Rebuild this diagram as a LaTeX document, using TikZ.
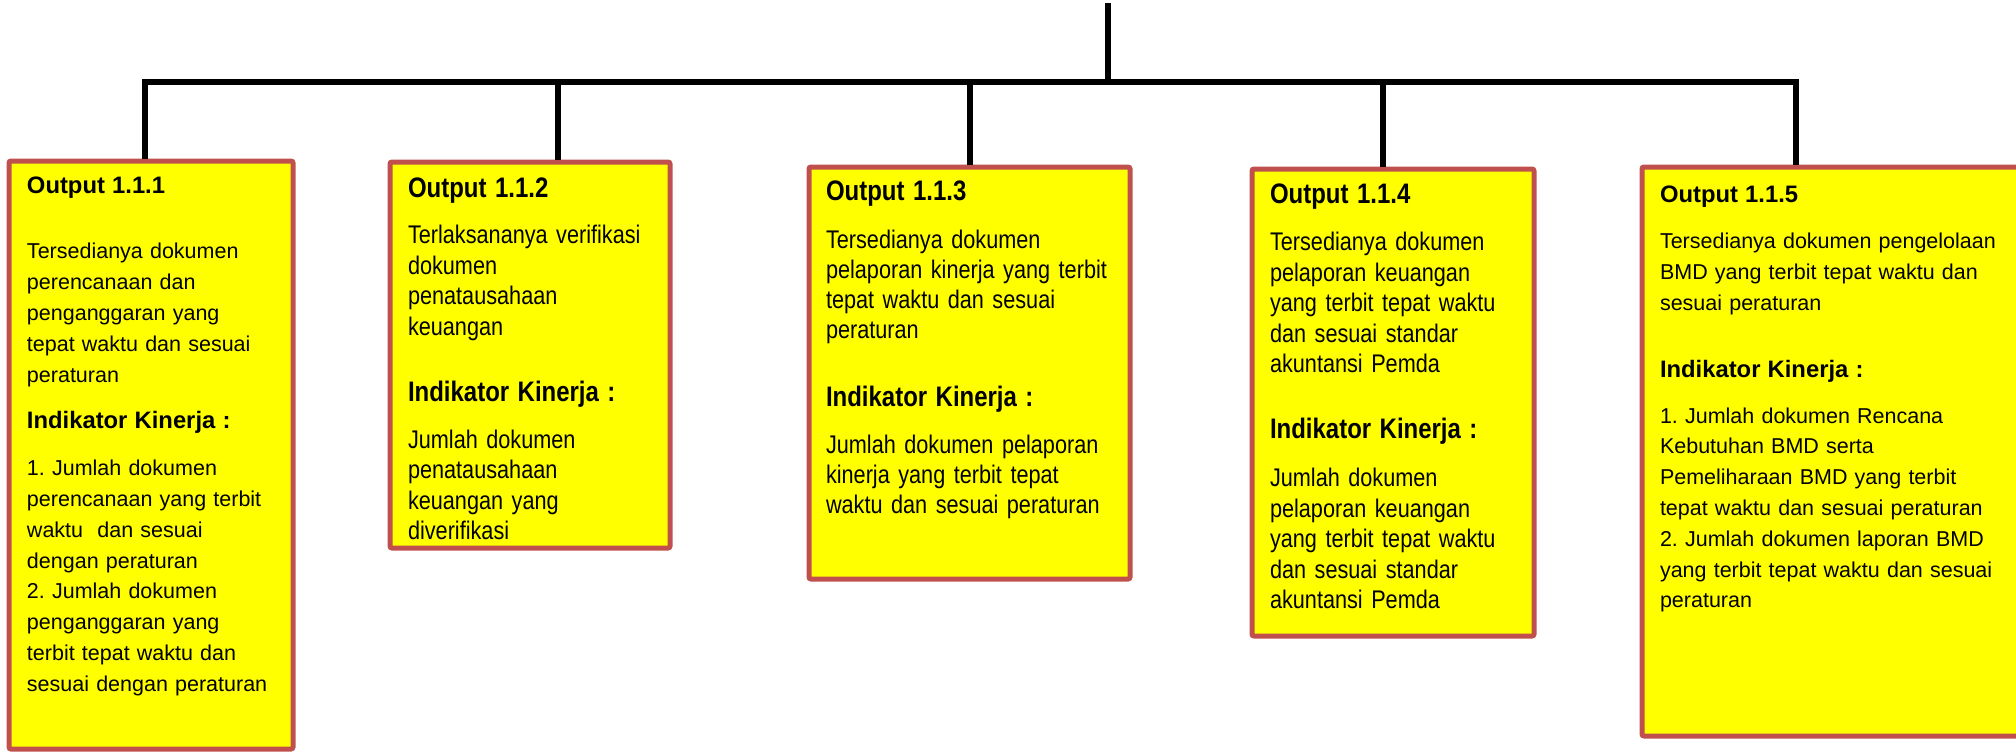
\documentclass[tikz,border=0pt]{standalone}
\usepackage{fontspec}
\setmainfont{Liberation Sans}
\newfontfamily\narrowfont[FakeStretch=0.85]{Liberation Sans}
\usetikzlibrary{positioning}

\definecolor{boxyellow}{HTML}{FFFF00}
\definecolor{boxred}{HTML}{C0504D}

\newcommand{\regbody}{\frenchspacing\fontsize{21.5}{30.8}\selectfont}
\newcommand{\regkpi}{\fontsize{23.8}{30.8}\selectfont\bfseries}
\newcommand{\narbody}{\frenchspacing\narrowfont\fontsize{25.5}{30.5}\selectfont}
\newcommand{\narkpi}{\fontsize{28.2}{30.5}\selectfont\bfseries}

\begin{document}
\begin{tikzpicture}[x=1pt, y=-1pt, line width=6pt]
    % Styles
    \tikzstyle{outbox}=[rectangle, draw=boxred, fill=boxyellow, line width=5pt, rounded corners=2pt, inner sep=0pt, anchor=north west]
    \tikzstyle{regtext}=[inner sep=0pt, align=left, text width=380pt, font=\regbody]
    \tikzstyle{nartext}=[inner sep=0pt, align=left, text width=330pt, font=\narbody]

    \useasboundingbox (0,0) rectangle (2016,752);

    % Tree lines
    \coordinate (top) at (1108,3);
    \coordinate (hub) at (1108,82);
    \coordinate (j1) at (145,82);
    \coordinate (j2) at (558,82);
    \coordinate (j3) at (970,82);
    \coordinate (j4) at (1383,82);
    \coordinate (j5) at (1796,82);

    % Output boxes
    \node (out1) [outbox, minimum width=284, minimum height=588] at (6.5,158.5) {};
    \node (out2) [outbox, minimum width=280, minimum height=386] at (387.5,159.5) {};
    \node (out3) [outbox, minimum width=321, minimum height=412] at (806.5,164.5) {};
    \node (out4) [outbox, minimum width=282, minimum height=467] at (1249.5,166.5) {};
    \node (out5) [outbox, minimum width=400, minimum height=569] at (1639.5,164.5) {};

    \draw (top) -- (hub);
    \draw[line cap=rect] (j1) -- (j5);
    \draw (j1) -- (j1 |- out1.north);
    \draw (j2) -- (j2 |- out2.north);
    \draw (j3) -- (j3 |- out3.north);
    \draw (j4) -- (j4 |- out4.north);
    \draw (j5) -- (j5 |- out5.north);

    % Box texts
    \node (txt1) [regtext, below right=15pt and 17.5pt of out1.north west] {{\regkpi Output 1.1.1}\\[35pt]
        Tersedianya dokumen\\ perencanaan dan\\ penganggaran yang\\ tepat waktu dan sesuai\\ peraturan\\[16pt]
        {\regkpi Indikator Kinerja :}\\[16pt]
        1. Jumlah dokumen\\ perencanaan yang terbit\\ waktu\ \ dan sesuai\\ dengan peraturan\\
        2. Jumlah dokumen\\ penganggaran yang\\ terbit tepat waktu dan\\ sesuai dengan peraturan};
    \node (txt2) [nartext, below right=15.5pt and 17.5pt of out2.north west] {{\narkpi Output 1.1.2}\\[15.5pt]
        Terlaksananya verifikasi\\ dokumen\\ penatausahaan\\ keuangan\\[35.5pt]
        {\narkpi Indikator Kinerja :}\\[16.5pt]
        Jumlah dokumen\\ penatausahaan\\ keuangan yang\\ diverifikasi};
    \node (txt3) [nartext, below right=13.5pt and 16.5pt of out3.north west, font=\narrowfont\fontsize{25.5}{30}\selectfont] {{\narkpi Output 1.1.3}\\[18pt]
        Tersedianya dokumen\\ pelaporan kinerja yang terbit\\ tepat waktu dan sesuai\\ peraturan\\[38pt]
        {\narkpi Indikator Kinerja :}\\[17pt]
        Jumlah dokumen pelaporan\\ kinerja yang terbit tepat\\ waktu dan sesuai peraturan};
    \node (txt4) [nartext, below right=14.5pt and 17.5pt of out4.north west] {{\narkpi Output 1.1.4}\\[16.5pt]
        Tersedianya dokumen\\ pelaporan keuangan\\ yang terbit tepat waktu\\ dan sesuai standar\\ akuntansi Pemda\\[35.5pt]
        {\narkpi Indikator Kinerja :}\\[17.5pt]
        Jumlah dokumen\\ pelaporan keuangan\\ yang terbit tepat waktu\\ dan sesuai standar\\ akuntansi Pemda};
    \node (txt5) [regtext, below right=18pt and 17.5pt of out5.north west] {{\regkpi Output 1.1.5}\\[16pt]
        Tersedianya dokumen pengelolaan\\ BMD yang terbit tepat waktu dan\\ sesuai peraturan\\[36pt]
        {\regkpi Indikator Kinerja :}\\[15pt]
        1. Jumlah dokumen Rencana\\ Kebutuhan BMD serta\\ Pemeliharaan BMD yang terbit\\ tepat waktu dan sesuai peraturan\\
        2. Jumlah dokumen laporan BMD\\ yang terbit tepat waktu dan sesuai\\ peraturan};
\end{tikzpicture}
\end{document}
